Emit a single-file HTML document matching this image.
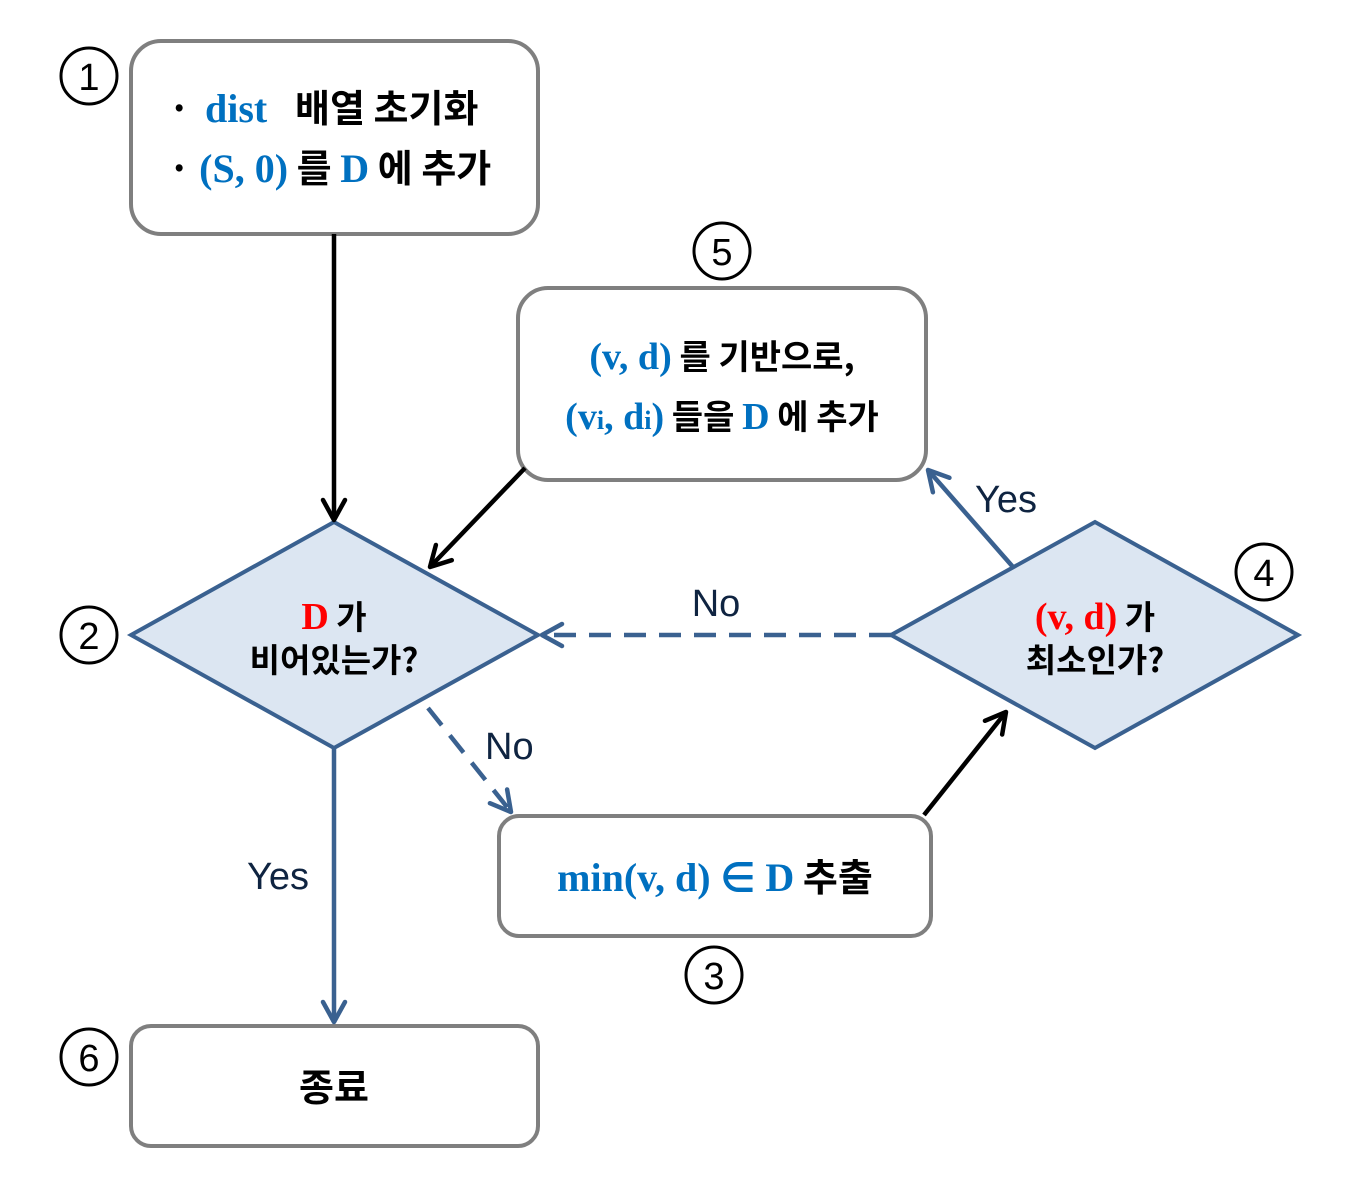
<!DOCTYPE html>
<html><head><meta charset="utf-8"><style>
html,body{margin:0;padding:0;background:#fff;}
svg{display:block;}
.k{font-family:"Liberation Sans","Noto Sans CJK KR",sans-serif;}
.b{font-family:"Noto Sans CJK KR","Liberation Sans",sans-serif;font-weight:bold;}
.s{font-family:"Liberation Serif",serif;font-weight:bold;}
</style></head><body>
<svg width="1360" height="1187" viewBox="0 0 1360 1187" xmlns="http://www.w3.org/2000/svg">
<defs>
<marker id="ab" markerUnits="userSpaceOnUse" markerWidth="40" markerHeight="40" refX="0" refY="0" viewBox="-25 -20 30 40" orient="auto" overflow="visible">
<path d="M-20,-11 L0,0 L-20,11" fill="none" stroke="#000" stroke-width="4.5" stroke-linecap="round" stroke-linejoin="round"/></marker>
<marker id="au" markerUnits="userSpaceOnUse" markerWidth="40" markerHeight="40" refX="0" refY="0" viewBox="-25 -20 30 40" orient="auto" overflow="visible">
<path d="M-20,-11 L0,0 L-20,11" fill="none" stroke="#3a6190" stroke-width="4.5" stroke-linecap="round" stroke-linejoin="round"/></marker>
</defs>
<g fill="#fff" stroke="#7f7f7f" stroke-width="4">
<rect x="131" y="41" width="407" height="193" rx="30"/>
<rect x="518" y="288" width="408" height="192" rx="30"/>
<rect x="499" y="816" width="432" height="120" rx="20"/>
<rect x="131" y="1026" width="407" height="120" rx="20"/>
</g>
<g fill="#dce6f2" stroke="#3a6190" stroke-width="4">
<polygon points="131,635 334,522 538,635 334,748"/>
<polygon points="891,635 1095,522 1298,635 1095,748"/>
</g>
<g fill="none" stroke-width="4.5">
<line x1="334" y1="234" x2="334" y2="520" stroke="#000" marker-end="url(#ab)"/>
<line x1="525" y1="468" x2="430" y2="567" stroke="#000" marker-end="url(#ab)"/>
<line x1="924" y1="815" x2="1006" y2="712" stroke="#000" marker-end="url(#ab)"/>
<line x1="1013" y1="567" x2="928" y2="470" stroke="#3a6190" marker-end="url(#au)"/>
<line x1="334" y1="748" x2="334" y2="1022" stroke="#3a6190" marker-end="url(#au)"/>
<line x1="891" y1="635" x2="542" y2="635" stroke="#3a6190" stroke-dasharray="22,13" marker-end="url(#au)"/>
<line x1="428" y1="708" x2="511" y2="812" stroke="#3a6190" stroke-dasharray="22,13" marker-end="url(#au)"/>
</g>
<g fill="#fff" stroke="#000" stroke-width="3">
<circle cx="89" cy="76" r="28"/><circle cx="89" cy="635" r="28"/><circle cx="714" cy="975" r="28"/>
<circle cx="1264" cy="572" r="28"/><circle cx="722" cy="251" r="28"/><circle cx="89" cy="1057" r="28"/>
</g>
<g class="k" font-size="38" text-anchor="middle" fill="#000">
<text x="89" y="90">1</text><text x="89" y="649">2</text><text x="714" y="989">3</text>
<text x="1264" y="586">4</text><text x="722" y="265">5</text><text x="89" y="1071">6</text>
</g>
<g class="k" font-size="38" fill="#0f2441">
<text x="716" y="616" text-anchor="middle">No</text>
<text x="485" y="759">No</text>
<text x="1006" y="512" text-anchor="middle">Yes</text>
<text x="278" y="889" text-anchor="middle">Yes</text>
</g>
<g font-size="38" fill="#000">
<text x="168" y="122" class="b">·<tspan x="205" class="s" fill="#0070c0" font-size="40">dist</tspan><tspan x="295">배열 초기화</tspan></text>
<text x="168" y="182" class="b">· <tspan class="s" fill="#0070c0" font-size="40">(S, 0)</tspan> 를 <tspan class="s" fill="#0070c0" font-size="40">D</tspan> 에 추가</text>
<text x="722" y="369" text-anchor="middle" class="b" font-size="34"><tspan class="s" fill="#0070c0" font-size="38">(v, d)</tspan> 를 기반으로,</text>
<text x="722" y="429" text-anchor="middle" class="b" font-size="34"><tspan class="s" fill="#0070c0" font-size="38">(v<tspan font-size="26">i</tspan>, d<tspan font-size="26">i</tspan>)</tspan> 들을 <tspan class="s" fill="#0070c0" font-size="38">D</tspan> 에 추가</text>
<text x="715" y="891" text-anchor="middle" class="b"><tspan class="s" fill="#0070c0" font-size="40">min(v, d) ∈ D</tspan> 추출</text>
<text x="334" y="1101" text-anchor="middle" class="b">종료</text>
<text x="334" y="629" text-anchor="middle" class="b" font-size="33"><tspan class="s" fill="#ff0000" font-size="38">D</tspan> 가</text>
<text x="334" y="672" text-anchor="middle" class="b" font-size="33">비어있는가?</text>
<text x="1095" y="629" text-anchor="middle" class="b" font-size="33"><tspan class="s" fill="#ff0000" font-size="38">(v, d)</tspan> 가</text>
<text x="1095" y="672" text-anchor="middle" class="b" font-size="33">최소인가?</text>
</g>
</svg>
</body></html>
